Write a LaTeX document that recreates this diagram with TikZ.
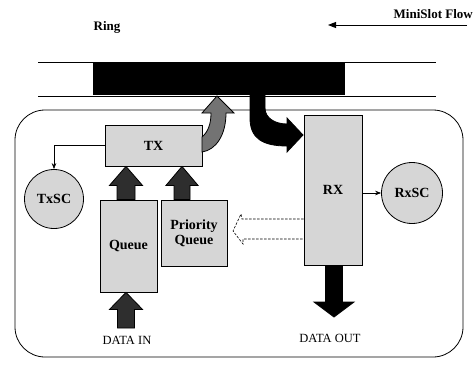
\documentclass[tikz,border=0pt]{standalone}
\usepackage{fontspec}
\setmainfont{Liberation Serif}
\usetikzlibrary{arrows.meta,calc}
\newcommand\fatup[6]{%
  \path[#1] let \p1=(#2), \p2=(#3) in
    (\x1-#4,\y1) -- (\x1-#4,\y2-#6) -- (\x1-#5,\y2-#6) -- (\x1,\y2) --
    (\x1+#5,\y2-#6) -- (\x1+#4,\y2-#6) -- (\x1+#4,\y1) -- cycle;}
\begin{document}
\begin{tikzpicture}[x=1pt,y=-1pt,
  box/.style={draw=black, line width=0.8pt, fill=black!16, font=\bfseries\fontsize{14}{15}\selectfont, align=center, inner sep=0pt},
  sc/.style={circle, draw=black, line width=0.8pt, fill=black!16, minimum size=59pt, inner sep=0pt, font=\bfseries\fontsize{14}{15}\selectfont},
  lbl/.style={font=\fontsize{12.5}{14}\selectfont, inner sep=0pt},
  toplbl/.style={font=\bfseries\fontsize{13}{14}\selectfont, inner sep=0pt},
  thinarrow/.style={draw, line width=0.6pt, -{Stealth[length=6pt,width=4.5pt]}},
  fatgray/.style={fill=black!55, draw=black, line width=0.8pt},
  fatdark/.style={fill=black!82, draw=black, line width=0.8pt},
  ringline/.style={draw=black, line width=0.9pt},
  ]
\useasboundingbox (0,0) rectangle (474,367);

% outer station box
\draw[line width=0.8pt, rounded corners=30pt] (15,110) rectangle (463,357);

% ring
\coordinate (ringTL) at (38,62);
\coordinate (ringTR) at (436,62);
\coordinate (ringBL) at (38,96);
\coordinate (ringBR) at (436,96);
\draw[ringline] (ringTL) -- (ringTR);
\draw[ringline] (ringBL) -- (ringBR);
\node[fill=black, minimum width=252pt, minimum height=32pt, inner sep=0pt] (slot) at (219,79) {};

% labels on top
\node[toplbl] (ring) at (107,27) {Ring};
\node[toplbl, anchor=east] (mini) at (473,14) {MiniSlot Flow};
\coordinate (msA) at (467,25);
\coordinate (msB) at (328,25);
\draw[line width=1pt, -{Triangle[length=8pt,width=6pt]}] (msA) -- (msB);

% boxes
\node[box, minimum width=97pt, minimum height=41pt] (tx) at (153.5,145.5) {TX};
\node[box, minimum width=57pt, minimum height=92pt] (queue) at (128.5,246) {Queue};
\node[box, minimum width=66pt, minimum height=66pt] (pq) at (194,233) {Priority\\Queue};
\node[box, minimum width=58pt, minimum height=150pt] (rx) at (333,190) {RX};
\node[sc] (txsc) at (54,199) {TxSC};
\node[sc, minimum size=61pt] (rxsc) at (412,193) {RxSC};

% thin connectors
\draw[thinarrow] (tx.west) -| (txsc.north);
\draw[thinarrow] (rxsc.west -| rx.east) -- (rxsc.west);

% fat up arrows
\fatup{fatdark}{$(queue.north)+(-2.5,0)$}{tx.south}{9pt}{16.5pt}{19pt}
\fatup{fatdark}{$(pq.north)+(-12,0)$}{tx.south}{8pt}{16pt}{19pt}
\coordinate (din) at (126,328);
\fatup{fatdark}{din}{$(queue.south)+(-2.5,0)$}{8.5pt}{16.5pt}{17pt}

% data out
\coordinate (dout) at (334,317);
\path[fill=black, draw=black, line width=0.8pt] let \p1=($(rx.south)+(1,0)$), \p2=(dout) in
  (\x1-8.5pt,\y1) -- (\x1-8.5pt,\y2+15pt) -- (\x1-20pt,\y2+15pt) -- (\x1,\y2) --
  (\x1+20pt,\y2+15pt) -- (\x1+8.5pt,\y2+15pt) -- (\x1+8.5pt,\y1) -- cycle;

\node[lbl] (datain) at (127,340) {DATA IN};
\node[lbl] (dataout) at (330,338) {DATA OUT};

% TX to ring (gray curved)
\draw[fatgray] (202,137) .. controls (208,132) and (211,124) .. (211,113) -- (202,113) -- (217,96)
  -- (234,113) -- (226,113) .. controls (226,135) and (216,150) .. (202,152) -- cycle;

% ring to RX (black curved)
\draw[fill=black, draw=black, line width=0.8pt] (250,95) -- (250,118) .. controls (250,138) and (262,146) .. (287,146)
  -- (287,152) -- (303,135) -- (287,118) -- (287,124) .. controls (275,124) and (265,118) .. (265,108) -- (265,95) -- cycle;

% dashed hollow arrow RX to priority queue
\draw[line width=0.6pt, dash pattern=on 2.5pt off 1.5pt]
  (rx.west |- 0,219) -- (242,219) -- (241,214) -- (233,231) -- (243,244) -- (243,239) -- (rx.west |- 0,239);
\end{tikzpicture}
\end{document}
